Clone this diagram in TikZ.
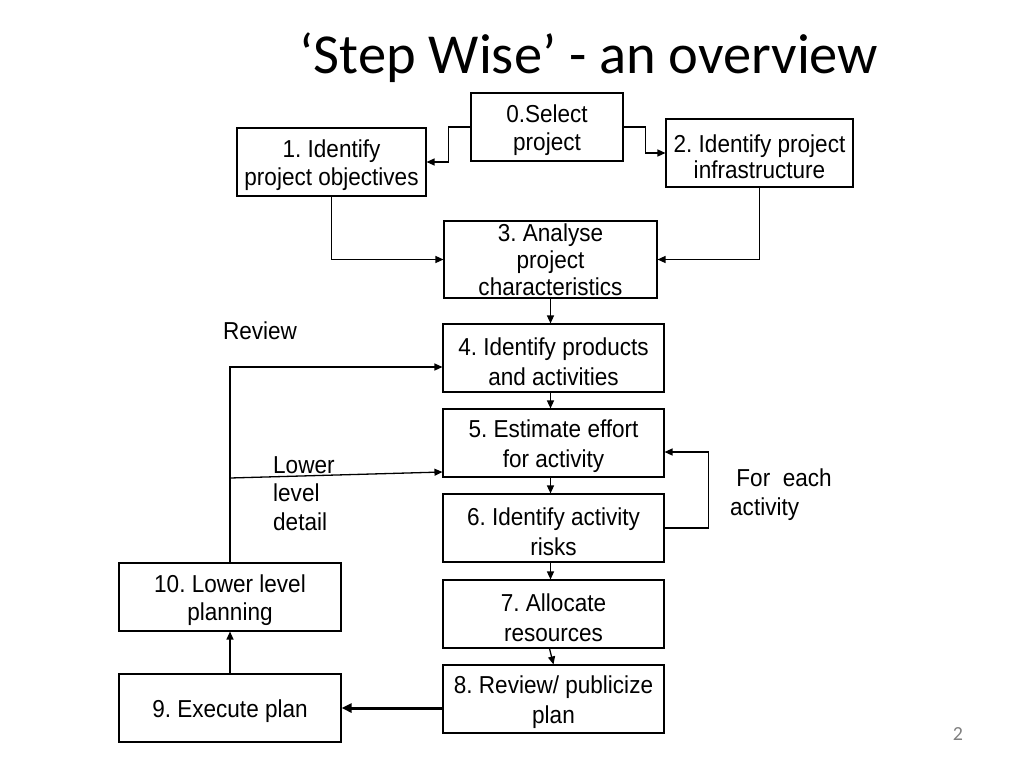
\documentclass[tikz,border=0pt]{standalone}
\usepackage{fontspec}
\setmainfont{Liberation Sans}[FakeStretch=0.92]
\newfontfamily\titlefont{Carlito}
\usetikzlibrary{arrows.meta}
\frenchspacing
\newcommand{\topstrut}{\rule{0pt}{25pt}}
\begin{document}
\begin{tikzpicture}[x=1pt,y=-1pt,
  box/.style={draw, line width=1.1pt, rectangle, inner sep=0pt, align=center,
    minimum height=68pt, font=\fontsize{24.5}{29}\selectfont},
  arr/.style={line width=1.3pt, -{Triangle[length=8pt,width=7pt]}},
  lbl/.style={inner sep=0pt, align=left, font=\fontsize{24.5}{28.5}\selectfont}]
\useasboundingbox[fill=white] (0,0) rectangle (1024,768);
\node[inner sep=0pt, anchor=base, font=\titlefont\fontsize{56.5}{60}\selectfont] (title) at (589,73) {‘Step Wise’ - an overview};
\node[box, minimum width=152pt, font=\fontsize{24.5}{28}\selectfont] (b0) at (547,127) {\topstrut0.Select\\project};
\node[box, minimum width=189pt, font=\fontsize{24.5}{28}\selectfont] (b1) at (331.5,162) {\topstrut1. Identify\\project objectives};
\node[box, minimum width=187pt, font=\fontsize{24.5}{26}\selectfont] (b2) at (759.5,153) {\topstrut2. Identify project\\infrastructure};
\node[box, minimum width=213pt, minimum height=77pt, font=\fontsize{24.5}{27}\selectfont] (b3) at (550.5,259.5) {3. Analyse\\project\\characteristics};
\node[box, minimum width=221pt, font=\fontsize{24.5}{30}\selectfont] (b4) at (553.5,358) {\topstrut4. Identify products\\and activities};
\node[box, minimum width=221pt, font=\fontsize{24.5}{30}\selectfont] (b5) at (553.5,443) {\topstrut5. Estimate effort\\for activity};
\node[box, minimum width=221pt, font=\fontsize{24.5}{30}\selectfont] (b6) at (553.5,528) {\topstrut6. Identify activity\\risks};
\node[box, minimum width=221pt, font=\fontsize{24.5}{30}\selectfont] (b7) at (553.5,614) {\topstrut7. Allocate\\resources};
\node[box, minimum width=221pt, font=\fontsize{24.5}{30}\selectfont] (b8) at (553.5,699) {\topstrut8. Review/ publicize\\plan};
\node[box, minimum width=222pt] (b9) at (230,708) {\topstrut9. Execute plan};
\node[box, minimum width=222pt, font=\fontsize{24.5}{28}\selectfont] (b10) at (230,597) {\topstrut10. Lower level\\planning};
\node[lbl] (review) at (260,331) {Review};
\node[lbl, anchor=north west] (lower) at (273,456) {Lower\\level\\detail};
\node[lbl, anchor=north west] (foreach) at (730,469) {\ For~~each\\activity};
\node[inner sep=0pt, text=gray, font=\titlefont\fontsize{20}{22}\selectfont] (pnum) at (958,734) {2};
% connectors
\draw[arr] (b0.west) -- ++(-22,0) |- (b1.east);
\draw[arr] (b0.east) -- ++(22,0) |- (b2.west);
\draw[arr] (b1.south) |- (b3.west);
\draw[arr] (b2.south) |- (b3.east);
\draw[arr] (b3.south) -- (b3.south |- b4.north);
\draw[arr] ([xshift=-3pt]b4.south) -- ([xshift=-3pt]b5.north);
\draw[arr] ([xshift=-3pt]b5.south) -- ([xshift=-3pt]b6.north);
\draw[arr] ([xshift=-3pt]b6.south) -- ([xshift=-3pt]b7.north);
\draw[arr] ([xshift=-4pt]b7.south) -- ([xshift=0pt]b8.north);
\draw[arr] (b6.east) -- ++(44,0) |- ([yshift=-9pt]b5.east);
\draw[arr] (b10.north) |- ([yshift=-9pt]b4.west);
\coordinate (lld) at (230,478);
\draw[arr] (lld) -- ([yshift=-29pt]b5.west);
\draw[arr] (b9.north) -- (b10.south);
\draw[line width=3pt, -{Triangle[length=10pt,width=9pt]}] (b8.west |- b9.east) -- (b9.east);
\end{tikzpicture}
\end{document}
